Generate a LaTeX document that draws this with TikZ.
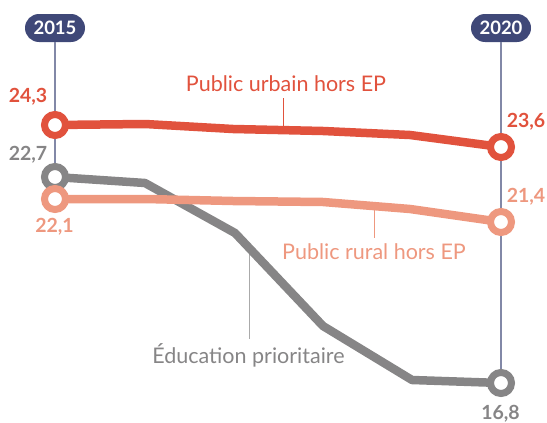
\documentclass[tikz,border=0pt]{standalone}
\usepackage{fontspec}
\setmainfont{Lato}
\usetikzlibrary{positioning}
\definecolor{urbain}{HTML}{E1523D}
\definecolor{rural}{HTML}{EE987F}
\definecolor{prio}{HTML}{868586}
\definecolor{annee}{HTML}{3F4878}
\begin{document}
\begin{tikzpicture}[
    x=1pt, y=-1pt,
    pille/.style={fill=annee, text=white, rounded corners=14pt, minimum width=60pt,
                  minimum height=28pt, inner sep=0pt, font=\fontsize{18.5}{20}\selectfont\bfseries},
    achse/.style={annee!65, line width=1.1pt},
    courbe/.style={line width=8.5pt, line join=round},
    rond/.style={circle, line width=7pt, fill=white, minimum size=21pt, inner sep=0pt},
    valeur/.style={anchor=base, inner sep=0pt, font=\fontsize{19.5}{22}\selectfont\bfseries},
    legende/.style={anchor=base, inner sep=2pt, font=\fontsize{21.5}{24}\selectfont},
    fil/.style={line width=0.9pt}]
    \useasboundingbox (0,0) rectangle (547,423);

    % Annees
    \node[pille] (a15) at (55,28) {2015};
    \node[pille] (a20) at (501,28) {2020};

    % Points
    \coordinate (u1) at (55,125);  \coordinate (u2) at (145,124); \coordinate (u3) at (233,129);
    \coordinate (u4) at (323,131); \coordinate (u5) at (410,135); \coordinate (u6) at (501,147);
    \coordinate (r1) at (55,199);  \coordinate (r2) at (145,199); \coordinate (r3) at (233,201);
    \coordinate (r4) at (323,202); \coordinate (r5) at (410,209); \coordinate (r6) at (501,222);
    \coordinate (p1) at (55,177);  \coordinate (p2) at (145,183); \coordinate (p3) at (235,233);
    \coordinate (p4) at (323,326); \coordinate (p5) at (412,380); \coordinate (p6) at (501,383);

    % Achsen
    \draw[achse] (a15) -- (p1);
    \draw[achse] (a20) -- (p6);

    % Legendes
    \node[legende, urbain] (lu) at (286,91) {Public urbain hors EP};
    \node[legende, rural] (lr) at (374,259) {Public rural hors EP};
    \node[legende, prio] (lp) at (248.5,363) {Éducation prioritaire};
    \coordinate (ul) at (283,129.5);
    \coordinate (rl) at (374,208);
    \coordinate (pl) at (249,250);
    \draw[fil, urbain, shorten >=5pt] (ul) -- (ul |- lu.south);
    \draw[fil, rural, shorten >=3pt] (rl) -- (rl |- lr.north);
    \draw[fil, prio!70, shorten >=2pt] (pl) -- (pl |- lp.north);

    % Courbes
    \draw[courbe, prio] (p1) -- (p2) -- (p3) -- (p4) -- (p5) -- (p6);
    \node[rond, draw=prio] (p15) at (p1) {};
    \node[rond, draw=prio] (p20) at (p6) {};
    \draw[courbe, rural] (r1) -- (r2) -- (r3) -- (r4) -- (r5) -- (r6);
    \node[rond, draw=rural] (r15) at (r1) {};
    \node[rond, draw=rural] (r20) at (r6) {};
    \draw[courbe, urbain] (u1) -- (u2) -- (u3) -- (u4) -- (u5) -- (u6);
    \node[rond, draw=urbain] (u15) at (u1) {};
    \node[rond, draw=urbain] (u20) at (u6) {};

    % Valeurs
    \node[valeur, urbain] (v243) at (28,102) {24,3};
    \node[valeur, prio] (v227) at (28,160) {22,7};
    \node[valeur, rural] (v221) at (54.5,232) {22,1};
    \node[valeur, urbain] (v236) at (526,127) {23,6};
    \node[valeur, rural] (v214) at (526,202) {21,4};
    \node[valeur, prio] (v168) at (500.5,419.5) {16,8};
\end{tikzpicture}
\end{document}
